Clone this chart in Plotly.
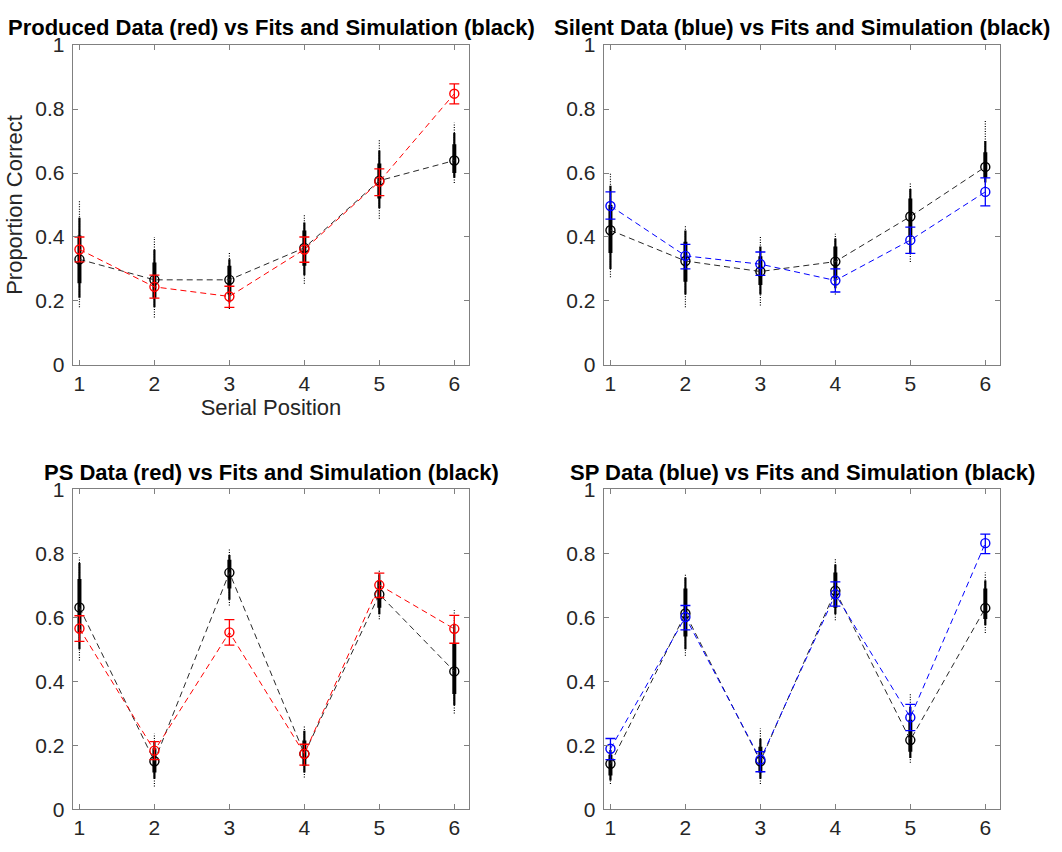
import plotly.graph_objects as go

positions = [1, 2, 3, 4, 5, 6]

titles = [
    "Produced Data (red) vs Fits and Simulation (black)",
    "Silent Data (blue) vs Fits and Simulation (black)",
    "PS Data (red) vs Fits and Simulation (black)",
    "SP Data (blue) vs Fits and Simulation (black)",
]

# Observed proportion correct with error bar ends
produced_obs = [0.361, 0.244, 0.214, 0.361, 0.573, 0.848]
produced_hi = [0.400, 0.281, 0.246, 0.400, 0.613, 0.879]
produced_lo = [0.322, 0.209, 0.180, 0.321, 0.529, 0.816]

silent_obs = [0.497, 0.341, 0.315, 0.264, 0.390, 0.541]
silent_hi = [0.541, 0.377, 0.353, 0.300, 0.431, 0.585]
silent_lo = [0.456, 0.300, 0.280, 0.228, 0.349, 0.497]

ps_obs = [0.565, 0.183, 0.553, 0.173, 0.701, 0.564]
ps_hi = [0.605, 0.211, 0.593, 0.203, 0.738, 0.606]
ps_lo = [0.525, 0.155, 0.513, 0.138, 0.662, 0.519]

sp_obs = [0.189, 0.601, 0.155, 0.672, 0.287, 0.832]
sp_hi = [0.221, 0.637, 0.180, 0.711, 0.328, 0.860]
sp_lo = [0.155, 0.561, 0.117, 0.635, 0.246, 0.799]

# Model fits
produced_fit = [0.330, 0.266, 0.266, 0.366, 0.576, 0.639]
silent_fit = [0.421, 0.325, 0.292, 0.323, 0.464, 0.619]
ps_fit = [0.631, 0.150, 0.740, 0.173, 0.672, 0.431]
sp_fit = [0.142, 0.612, 0.150, 0.683, 0.216, 0.629]

# Simulation spread: full extent, bulk and dense core of simulated proportions
produced_sim_min = [0.180, 0.148, 0.175, 0.254, 0.457, 0.569]
produced_sim_max = [0.513, 0.400, 0.353, 0.473, 0.703, 0.757]
produced_bulk_lo = [0.210, 0.180, 0.195, 0.280, 0.490, 0.585]
produced_bulk_hi = [0.460, 0.360, 0.330, 0.445, 0.670, 0.725]
produced_core_lo = [0.255, 0.210, 0.220, 0.310, 0.520, 0.600]
produced_core_hi = [0.405, 0.320, 0.310, 0.420, 0.630, 0.690]

silent_sim_min = [0.274, 0.180, 0.186, 0.220, 0.322, 0.556]
silent_sim_max = [0.600, 0.436, 0.400, 0.410, 0.568, 0.766]
silent_bulk_lo = [0.300, 0.220, 0.220, 0.240, 0.350, 0.570]
silent_bulk_hi = [0.560, 0.420, 0.370, 0.395, 0.550, 0.700]
silent_core_lo = [0.350, 0.260, 0.250, 0.270, 0.400, 0.585]
silent_core_hi = [0.500, 0.385, 0.340, 0.370, 0.520, 0.665]

ps_sim_min = [0.465, 0.071, 0.637, 0.099, 0.594, 0.299]
ps_sim_max = [0.787, 0.236, 0.812, 0.262, 0.750, 0.622]
ps_bulk_lo = [0.500, 0.095, 0.655, 0.115, 0.610, 0.325]
ps_bulk_hi = [0.770, 0.210, 0.795, 0.245, 0.735, 0.580]
ps_core_lo = [0.550, 0.115, 0.690, 0.135, 0.630, 0.360]
ps_core_hi = [0.720, 0.190, 0.780, 0.215, 0.715, 0.520]

sp_sim_min = [0.079, 0.480, 0.079, 0.591, 0.145, 0.551]
sp_sim_max = [0.200, 0.738, 0.252, 0.784, 0.363, 0.740]
sp_bulk_lo = [0.090, 0.500, 0.095, 0.610, 0.160, 0.575]
sp_bulk_hi = [0.185, 0.725, 0.220, 0.765, 0.320, 0.715]
sp_core_lo = [0.105, 0.540, 0.115, 0.630, 0.180, 0.595]
sp_core_hi = [0.170, 0.690, 0.195, 0.740, 0.280, 0.690]

RED = "rgb(255,0,0)"
BLUE = "rgb(0,0,255)"
BLACK = "rgb(0,0,0)"
FIT_LINE = "rgb(40,40,40)"
AXIS_LINE = "rgb(128,128,128)"
TEXT = "rgb(38,38,38)"
FONT = "Liberation Sans, Arial, Helvetica, sans-serif"

panels = [
    dict(title=titles[0], obs=produced_obs, hi=produced_hi, lo=produced_lo, fit=produced_fit,
         smin=produced_sim_min, smax=produced_sim_max, blo=produced_bulk_lo, bhi=produced_bulk_hi,
         clo=produced_core_lo, chi=produced_core_hi, color=RED),
    dict(title=titles[1], obs=silent_obs, hi=silent_hi, lo=silent_lo, fit=silent_fit,
         smin=silent_sim_min, smax=silent_sim_max, blo=silent_bulk_lo, bhi=silent_bulk_hi,
         clo=silent_core_lo, chi=silent_core_hi, color=BLUE),
    dict(title=titles[2], obs=ps_obs, hi=ps_hi, lo=ps_lo, fit=ps_fit,
         smin=ps_sim_min, smax=ps_sim_max, blo=ps_bulk_lo, bhi=ps_bulk_hi,
         clo=ps_core_lo, chi=ps_core_hi, color=RED),
    dict(title=titles[3], obs=sp_obs, hi=sp_hi, lo=sp_lo, fit=sp_fit,
         smin=sp_sim_min, smax=sp_sim_max, blo=sp_bulk_lo, bhi=sp_bulk_hi,
         clo=sp_core_lo, chi=sp_core_hi, color=BLUE),
]

W, H = 1062, 852
# axes boxes in pixels: (left, right, top, bottom) and title centre height
boxes = [
    (72.7, 469.3, 34.0, 362.7),
    (603.7, 1000.3, 34.0, 362.7),
    (72.7, 469.3, 490.7, 819.3),
    (603.7, 1000.3, 490.7, 819.3),
]
title_centres = [16, 16, 473, 473]


def segments(xs, lows, highs):
    sx, sy = [], []
    for x, a, b in zip(xs, lows, highs):
        sx += [x, x, None]
        sy += [a, b, None]
    return sx, sy


fig = go.Figure()
annotations = []

for k, p in enumerate(panels):
    ax = "" if k == 0 else str(k + 1)
    xa, ya = "x" + ax, "y" + ax

    # simulation clouds (tails, bulk, dense core)
    sx, sy = segments(positions, p["smin"], p["smax"])
    fig.add_trace(go.Scatter(x=sx, y=sy, mode="lines", xaxis=xa, yaxis=ya,
                             line=dict(color=BLACK, width=1.2, dash="1px,1.5px"),
                             showlegend=False, hoverinfo="skip"))
    sx, sy = segments(positions, p["blo"], p["bhi"])
    fig.add_trace(go.Scatter(x=sx, y=sy, mode="lines", xaxis=xa, yaxis=ya,
                             line=dict(color=BLACK, width=2.2),
                             showlegend=False, hoverinfo="skip"))
    sx, sy = segments(positions, p["clo"], p["chi"])
    fig.add_trace(go.Scatter(x=sx, y=sy, mode="lines", xaxis=xa, yaxis=ya,
                             line=dict(color=BLACK, width=4),
                             showlegend=False, hoverinfo="skip"))

    # model fit
    fig.add_trace(go.Scatter(x=positions, y=p["fit"], mode="lines+markers", xaxis=xa, yaxis=ya,
                             line=dict(color=FIT_LINE, width=1, dash="6px,4px"),
                             marker=dict(symbol="circle-open", size=9, color=BLACK,
                                         line=dict(width=1.4, color=BLACK)),
                             showlegend=False))

    # observed data with error bars
    fig.add_trace(go.Scatter(
        x=positions, y=p["obs"], mode="lines+markers", xaxis=xa, yaxis=ya,
        line=dict(color=p["color"], width=1, dash="6px,4px"),
        marker=dict(symbol="circle-open", size=9, color=p["color"],
                    line=dict(width=1.4, color=p["color"])),
        error_y=dict(type="data", symmetric=False,
                     array=[h - o for h, o in zip(p["hi"], p["obs"])],
                     arrayminus=[o - l for o, l in zip(p["obs"], p["lo"])],
                     color=p["color"], thickness=1.3, width=5),
        showlegend=False))

    left, right, top, bottom = boxes[k]
    axis_common = dict(showline=True, linecolor=AXIS_LINE, linewidth=1, mirror="ticks",
                       ticks="inside", ticklen=5, tickcolor=AXIS_LINE, showgrid=False,
                       zeroline=False, tickfont=dict(family=FONT, size=21, color=TEXT))
    fig.layout["xaxis" + ax] = dict(
        domain=[left / W, right / W], range=[0.91, 6.2], tickvals=positions,
        anchor=ya, **axis_common)
    fig.layout["yaxis" + ax] = dict(
        domain=[1 - bottom / H, 1 - top / H], range=[0, 1],
        tickvals=[0, 0.2, 0.4, 0.6, 0.8, 1], ticktext=["0", "0.2", "0.4", "0.6", "0.8", "1"],
        ticklabelstandoff=3, anchor=xa, **axis_common)

    annotations.append(dict(
        text="<b>" + p["title"] + "</b>", x=(left + right) / 2 / W,
        y=1 - title_centres[k] / H,
        xref="paper", yref="paper", xanchor="center", yanchor="middle", showarrow=False,
        font=dict(family=FONT, size=22, color=BLACK)))

fig.layout.xaxis.title = dict(text="Serial Position", font=dict(family=FONT, size=22, color=TEXT),
                              standoff=5)
fig.layout.yaxis.title = dict(text="Proportion Correct", font=dict(family=FONT, size=22, color=TEXT),
                              standoff=6)

fig.update_layout(width=W, height=H, margin=dict(l=0, r=0, t=0, b=0),
                  paper_bgcolor="white", plot_bgcolor="white",
                  annotations=annotations, showlegend=False)

fig.write_html("out.html")
